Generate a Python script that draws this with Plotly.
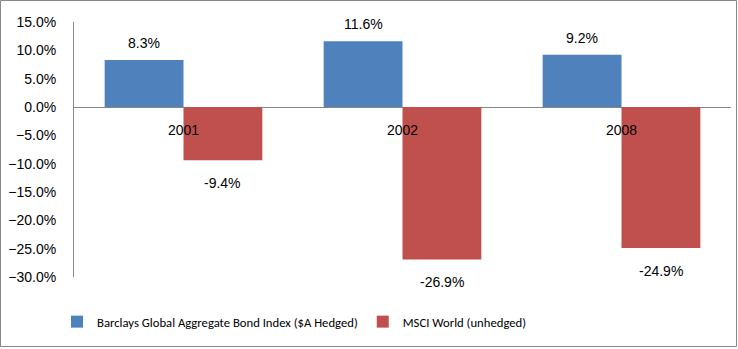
import plotly.graph_objects as go

categories = ["2001", "2002", "2008"]
barclays = [0.083, 0.116, 0.092]
msci = [-0.094, -0.269, -0.249]
series_names = ["Barclays Global Aggregate Bond Index ($A Hedged)", "MSCI World (unhedged)"]
tick_vals = [0.15, 0.10, 0.05, 0.0, -0.05, -0.10, -0.15, -0.20, -0.25, -0.30]

W, H = 738, 349
ML, MR, MT, MB = 74, 7, 22, 72
BARGAP = 0.28
FONT = "Liberation Sans, Arial, sans-serif"
LEGEND_FONT = "Carlito, Lato, sans-serif"
BLUE = "#4F81BD"
RED = "#C0504D"

fig = go.Figure()
fig.add_trace(go.Bar(x=categories, y=barclays, name=series_names[0],
                     marker=dict(color=BLUE, line=dict(width=0))))
fig.add_trace(go.Bar(x=categories, y=msci, name=series_names[1],
                     marker=dict(color=RED, line=dict(width=0))))

half = (1 - BARGAP) / 4  # offset of each bar centre from category centre
annotations = []
for i, c in enumerate(categories):
    annotations.append(dict(x=i, y=0, xref="x", yref="y", text=c, showarrow=False,
                            yanchor="middle", yshift=-23, font=dict(size=14, color="#000")))
    for v, dx in ((barclays[i], -half), (msci[i], half)):
        annotations.append(dict(x=i + dx, y=v, xref="x", yref="y", text=f"{v*100:.1f}%",
                                showarrow=False, yanchor="middle",
                                yshift=17 if v >= 0 else -23,
                                font=dict(size=14, color="#000")))

pw = W - ML - MR
ph = H - MT - MB
border = dict(type="rect", xref="paper", yref="paper",
              x0=(0.5 - ML) / pw, x1=(W - 1.5 - ML) / pw,
              y0=-(H - 2.5 - MT - ph) / ph, y1=1 + (MT - 0.5) / ph,
              line=dict(color="#878787", width=1), layer="below")

fig.update_layout(
    width=W, height=H,
    margin=dict(l=ML, r=MR, t=MT, b=MB),
    paper_bgcolor="white", plot_bgcolor="white",
    barmode="group", bargap=BARGAP, bargroupgap=0,
    font=dict(family=FONT, size=14, color="#000"),
    showlegend=True,
    legend=dict(orientation="h", x=-17 / pw, xanchor="left", y=-0.176, yanchor="middle",
                font=dict(family=LEGEND_FONT, size=12.7, color="#000"),
                bgcolor="rgba(0,0,0,0)"),
    annotations=annotations,
    shapes=[border],
)
fig.update_xaxes(showticklabels=False, showline=False, showgrid=False, zeroline=False, ticks="")
fig.update_yaxes(range=[-0.30, 0.15], tickvals=tick_vals, tickformat=".1%",
                 showgrid=False, zeroline=True, zerolinecolor="#878787", zerolinewidth=1,
                 showline=True, linecolor="#878787", linewidth=1,
                 ticks="", ticklabelstandoff=14)

fig.write_html("out.html")
